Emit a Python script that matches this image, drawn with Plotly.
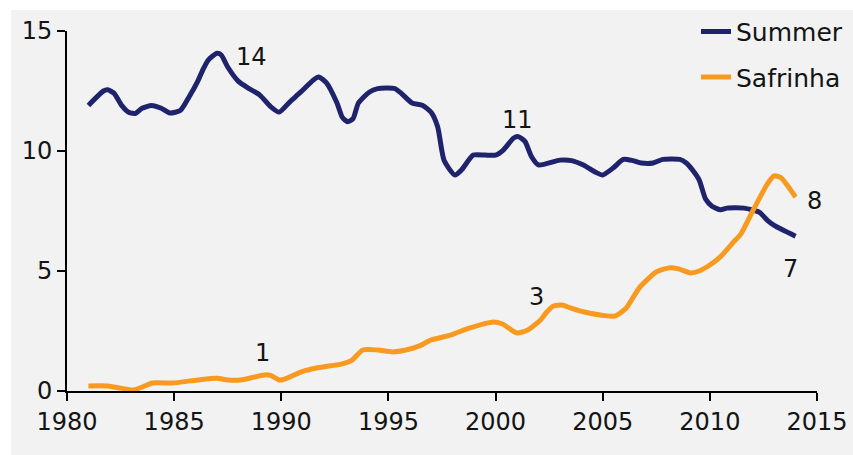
import plotly.graph_objects as go

# Summer area (million ha)
summer_years = [1981.0, 1981.7, 1981.9, 1982.2, 1982.55, 1982.9, 1983.2, 1983.5, 1983.95, 1984.4,
                1984.8, 1985.3, 1985.7, 1986.1, 1986.35, 1986.6, 1987.0, 1987.2, 1987.5, 1988.0,
                1988.5, 1989.0, 1989.5, 1989.9, 1990.4, 1990.9, 1991.5, 1991.75, 1992.1, 1992.6,
                1992.85, 1993.1, 1993.35, 1993.6, 1994.1, 1994.5, 1995.3, 1995.6, 1996.1, 1996.6,
                1997.0, 1997.3, 1997.6, 1998.1, 1998.4, 1998.96, 1999.5, 2000.0, 2000.36, 2000.83,
                2001.06, 2001.37, 2001.68, 2002.0, 2003.0, 2003.55, 2004.1, 2004.7, 2005.0, 2005.5,
                2005.96, 2006.4, 2006.8, 2007.35, 2007.8, 2008.6, 2008.9, 2009.2, 2009.5, 2009.8,
                2010.1, 2010.5, 2010.8, 2011.6, 2012.3, 2012.7, 2013.0, 2014.0]
summer_values = [11.9, 12.5, 12.55, 12.4, 11.9, 11.6, 11.57, 11.78, 11.9, 11.78,
                 11.58, 11.7, 12.26, 12.9, 13.4, 13.8, 14.07, 14.0, 13.5, 12.9,
                 12.6, 12.33, 11.85, 11.62, 12.05, 12.45, 12.96, 13.08, 12.85, 12.0,
                 11.4, 11.22, 11.35, 12.0, 12.45, 12.6, 12.6, 12.4, 12.0, 11.9,
                 11.6, 11.0, 9.6, 9.0, 9.2, 9.83, 9.83, 9.83, 10.04, 10.53,
                 10.6, 10.4, 9.76, 9.42, 9.62, 9.6, 9.42, 9.1, 9.0, 9.3,
                 9.65, 9.6, 9.5, 9.5, 9.65, 9.65, 9.5, 9.2, 8.8, 8.0,
                 7.7, 7.55, 7.62, 7.62, 7.45, 7.1, 6.9, 6.45]

# Safrinha (second crop) area
safrinha_years = [1981.0, 1981.9, 1982.5, 1983.1, 1984.0, 1984.9, 1986.1, 1987.0, 1987.5, 1988.1,
                  1988.6, 1989.2, 1989.5, 1989.9, 1990.1, 1991.0, 1991.6, 1992.3, 1992.8, 1993.3,
                  1993.8, 1994.5, 1995.2, 1996.0, 1996.5, 1997.0, 1997.9, 1998.8, 1999.9, 2000.3,
                  2001.0, 2001.5, 2002.1, 2002.4, 2002.7, 2003.1, 2003.5, 2004.1, 2005.2, 2005.6,
                  2006.1, 2006.7, 2007.5, 2008.1, 2008.5, 2009.1, 2009.5, 2010.0, 2010.5, 2011.1,
                  2011.45, 2012.0, 2012.7, 2013.0, 2013.3, 2014.0]
safrinha_values = [0.21, 0.21, 0.12, 0.04, 0.33, 0.33, 0.46, 0.53, 0.46, 0.46,
                   0.55, 0.67, 0.65, 0.46, 0.48, 0.82, 0.95, 1.05, 1.12, 1.29,
                   1.71, 1.71, 1.63, 1.75, 1.9, 2.13, 2.33, 2.63, 2.88, 2.8,
                   2.42, 2.54, 2.96, 3.3, 3.54, 3.58, 3.46, 3.3, 3.13, 3.13,
                   3.46, 4.29, 4.96, 5.13, 5.1, 4.92, 5.0, 5.25, 5.6, 6.2,
                   6.55, 7.5, 8.65, 8.96, 8.9, 8.08]

x_ticks = [1980, 1985, 1990, 1995, 2000, 2005, 2010, 2015]
y_ticks = [0, 5, 10, 15]

label_text = ["14", "11", "7", "1", "3", "8"]
label_x = [1988.63, 2001.0, 2013.74, 1989.1, 2001.93, 2014.9]
label_y = [13.9, 11.3, 5.1, 1.6, 3.9, 7.9]

NAVY = "#1e236b"
ORANGE = "#f89a1f"
BG = "#f2f2f2"
FONT = "DejaVu Sans"
TXT = "#141414"

fig = go.Figure()
fig.add_trace(go.Scatter(x=summer_years, y=summer_values, name="Summer", mode="lines",
                         line=dict(color=NAVY, width=5, shape="spline", smoothing=0.6),
                         legendgroup="a"))
fig.add_trace(go.Scatter(x=safrinha_years, y=safrinha_values, name="Safrinha", mode="lines",
                         line=dict(color=ORANGE, width=5, shape="spline", smoothing=0.6),
                         legendgroup="b"))

for t, x, y in zip(label_text, label_x, label_y):
    fig.add_annotation(x=x, y=y, text=t, showarrow=False,
                       font=dict(family=FONT, size=24, color=TXT))

# grey panel background behind the chart
fig.add_shape(type="rect", xref="paper", yref="paper",
              x0=(11 - 67) / 750, x1=(853 - 67) / 750,
              y0=(391 - 455) / 360, y1=(391 - 10) / 360,
              fillcolor=BG, line=dict(width=0), layer="below")

fig.update_layout(
    width=853, height=455,
    margin=dict(l=67, r=36, t=31, b=64, autoexpand=False),
    paper_bgcolor="white", plot_bgcolor=BG,
    font=dict(family=FONT, size=24, color=TXT),
    showlegend=True,
    legend=dict(x=(696 - 67) / 750, y=1.062, xanchor="left", yanchor="top",
                bgcolor="rgba(0,0,0,0)", font=dict(size=25, color=TXT),
                tracegroupgap=10),
)
fig.update_xaxes(range=[1980, 2015], tickvals=x_ticks, ticktext=[str(v) for v in x_ticks],
                 showgrid=False, zeroline=False, showline=True, linecolor="black", linewidth=2,
                 ticks="outside", ticklen=8, tickwidth=2, tickcolor="black", automargin=False)
fig.update_yaxes(range=[0, 15], tickvals=y_ticks, ticktext=[str(v) for v in y_ticks],
                 showgrid=False, zeroline=False, showline=True, linecolor="black", linewidth=2,
                 ticks="outside", ticklen=8, tickwidth=2, tickcolor="black", automargin=False)

fig.write_html("out.html", config={"displayModeBar": False},
               post_script="document.body.style.margin='0';document.body.style.overflow='hidden';")
